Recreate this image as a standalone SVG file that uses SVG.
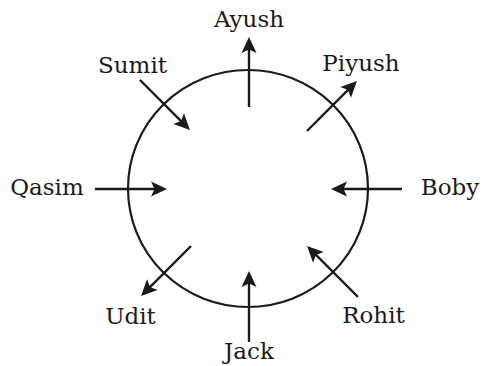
<svg xmlns="http://www.w3.org/2000/svg" width="482" height="366" viewBox="0 0 482 366">
<style>
text{font-family:"DejaVu Serif","Liberation Serif",serif;font-size:23px;fill:#1a1a1a;text-anchor:middle}
.c{fill:none;stroke:#1a1a1a;stroke-width:2.2}
.a{stroke:#1a1a1a;stroke-width:2.4;fill:none;marker-end:url(#ah)}
</style>
<defs>
<marker id="ah" markerUnits="userSpaceOnUse" markerWidth="20" markerHeight="18" viewBox="0 -9 18 18" refX="8" refY="0" orient="auto">
<path d="M0,-7.5 L16,0 L0,7.5 L3.5,0 Z" fill="#1a1a1a"/>
</marker>
</defs>
<g id="circle"><ellipse class="c" cx="248" cy="188.5" rx="120" ry="118.5"/></g>
<g id="connectors">
<line class="a" x1="249" y1="107" x2="249" y2="45"/>
<line class="a" x1="249" y1="342" x2="249" y2="279"/>
<line class="a" x1="95" y1="189" x2="159" y2="189"/>
<line class="a" x1="402" y1="189" x2="339" y2="189"/>
<line class="a" x1="140" y1="80" x2="184.3" y2="124.3"/>
<line class="a" x1="307" y1="131" x2="351.3" y2="86.7"/>
<line class="a" x1="191" y1="246" x2="146.7" y2="290.3"/>
<line class="a" x1="358" y1="297" x2="312.7" y2="251.7"/>
</g>
<g id="ayush"><text x="249" y="27">Ayush</text></g>
<g id="sumit"><text x="132.5" y="73">Sumit</text></g>
<g id="piyush"><text x="361" y="71">Piyush</text></g>
<g id="qasim"><text x="47" y="195">Qasim</text></g>
<g id="boby"><text x="450" y="195">Boby</text></g>
<g id="udit"><text x="130.5" y="324">Udit</text></g>
<g id="rohit"><text x="373.5" y="323">Rohit</text></g>
<g id="jack"><text x="249" y="359">Jack</text></g>
</svg>
